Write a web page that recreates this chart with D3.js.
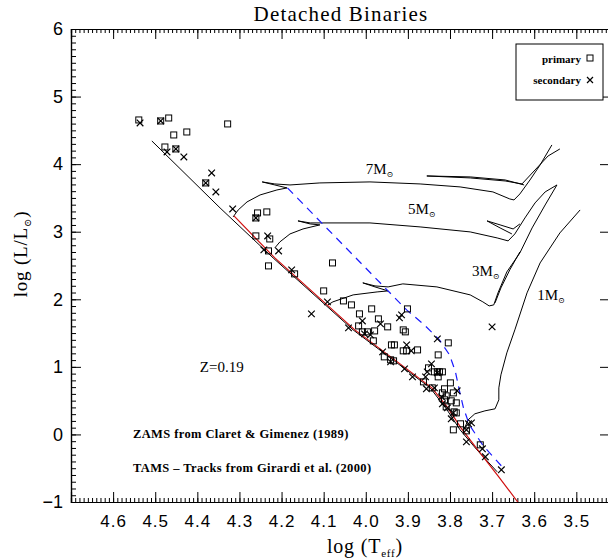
<!DOCTYPE html>
<html>
<head>
<meta charset="utf-8">
<script src="https://cdn.jsdelivr.net/npm/d3@7"></script>
<style>
  body { margin: 0; background: #fff; }
  svg { display: block; }
  .lbl { font-family: "Liberation Serif", "DejaVu Serif", serif; }
  .small { font-family: "Liberation Serif", serif; font-weight: bold; font-size: 12.5px; letter-spacing: 0.4px; }
  .leg { font-family: "Liberation Serif", serif; font-weight: bold; font-size: 11px; }
</style>
</head>
<body>
<svg width="608" height="560"></svg>
<script>
// axis ticks
const xMajor = [4.6, 4.5, 4.4, 4.3, 4.2, 4.1, 4.0, 3.9, 3.8, 3.7, 3.6, 3.5];
const yMajor = [-1, 0, 1, 2, 3, 4, 5, 6];

// primary stars [log Teff, log L]
const primary = [
  [4.539, 4.654], [4.487, 4.639], [4.468, 4.683], [4.456, 4.432], [4.425, 4.476],
  [4.328, 4.595], [4.477, 4.254], [4.451, 4.225], [4.380, 3.722], [4.257, 3.278],
  [4.235, 3.293], [4.261, 3.204], [4.261, 2.938], [4.228, 2.893], [4.231, 2.716],
  [4.231, 2.494], [4.169, 2.376], [4.079, 2.538], [4.100, 2.124], [4.053, 1.976],
  [4.034, 1.917], [4.015, 1.784], [3.986, 1.858], [3.970, 1.710], [3.948, 1.592],
  [3.901, 1.858], [4.017, 1.606], [4.008, 1.518], [3.996, 1.518], [3.979, 1.532],
  [3.982, 1.385], [3.911, 1.547], [3.906, 1.518], [3.939, 1.325], [3.932, 1.325],
  [3.911, 1.237], [3.903, 1.237], [3.877, 1.251], [3.956, 1.148], [3.941, 1.104],
  [3.934, 1.089], [3.804, 1.355], [3.828, 1.177], [3.851, 0.985], [3.837, 0.926],
  [3.830, 0.926], [3.825, 0.926], [3.818, 0.926], [3.828, 0.852], [3.863, 0.778],
  [3.799, 0.763], [3.842, 0.689], [3.813, 0.675], [3.818, 0.615], [3.792, 0.615],
  [3.809, 0.571], [3.813, 0.512], [3.797, 0.497], [3.785, 0.467], [3.809, 0.408],
  [3.790, 0.334], [3.785, 0.319], [3.775, 0.157], [3.792, 0.068], [3.761, 0.053],
  [3.728, -0.154]
];

// secondary stars [log Teff, log L]
const secondary = [
  [4.536, 4.609], [4.487, 4.639], [4.472, 4.180], [4.451, 4.225], [4.432, 4.106],
  [4.366, 3.870], [4.380, 3.722], [4.356, 3.589], [4.316, 3.337], [4.261, 3.204],
  [4.233, 2.938], [4.242, 2.731], [4.207, 2.716], [4.176, 2.435], [4.091, 1.962],
  [4.129, 1.784], [4.008, 1.680], [3.965, 1.636], [3.915, 1.769], [3.920, 1.725],
  [3.700, 1.592], [4.041, 1.577], [4.003, 1.488], [3.989, 1.473], [3.903, 1.325],
  [3.892, 1.237], [3.960, 1.222], [3.941, 1.074], [3.908, 0.970], [3.889, 0.852],
  [3.830, 1.414], [3.844, 1.044], [3.854, 0.926], [3.830, 0.911], [3.858, 0.852],
  [3.856, 0.675], [3.837, 0.689], [3.783, 0.645], [3.820, 0.556], [3.818, 0.453],
  [3.806, 0.393], [3.792, 0.319], [3.797, 0.231], [3.756, 0.157], [3.761, 0.068],
  [3.761, -0.110], [3.723, -0.213], [3.716, -0.331], [3.678, -0.524], [3.749, 0.171]
];

// ZAMS (Claret & Gimenez) - black
const zamsCG = [
  [4.508, 4.343], [4.346, 3.352], [4.220, 2.612], [4.030, 1.547], [3.847, 0.689],
  [3.807, 0.364], [3.776, 0.068], [3.736, -0.228], [3.688, -0.553]
];
// ZAMS (Girardi) - red
const zamsG = [
  [4.313, 3.234], [4.216, 2.612], [4.026, 1.547], [3.843, 0.689], [3.805, 0.393],
  [3.774, 0.098], [3.734, -0.228], [3.686, -0.612], [3.639, -1.000], [3.620, -1.20]
];
// TAMS - blue dashed
const tams = [
  [4.186, 3.648], [3.903, 1.843], [3.861, 1.621], [3.825, 1.399], [3.801, 1.177],
  [3.787, 0.926], [3.778, 0.660], [3.768, 0.393], [3.754, 0.142], [3.721, -0.169],
  [3.676, -0.479]
];

// evolutionary tracks
const track7 = [
  [4.315, 3.219], [4.303, 3.322], [4.282, 3.441], [4.251, 3.544], [4.211, 3.618],
  [4.187, 3.648], [4.216, 3.692], [4.246, 3.737], [4.216, 3.707], [4.180, 3.692],
  [4.109, 3.722], [3.990, 3.737], [3.871, 3.707], [3.776, 3.663], [3.698, 3.589],
  [3.658, 3.485], [3.648, 3.470], [3.634, 3.559], [3.610, 3.766], [3.586, 3.988],
  [3.558, 4.284]
];
const track7loop = [
  [3.624, 3.692], [3.669, 3.766], [3.752, 3.811], [3.855, 3.825], [3.752, 3.796],
  [3.669, 3.751], [3.629, 3.707], [3.598, 3.914], [3.567, 4.121], [3.539, 4.225]
];
const track5 = [
  [4.216, 2.760], [4.204, 2.849], [4.180, 2.967], [4.149, 3.041], [4.109, 3.101],
  [4.132, 3.115], [4.161, 3.160], [4.132, 3.130], [4.102, 3.130], [3.990, 3.130],
  [3.871, 3.071], [3.752, 2.997], [3.688, 2.908], [3.662, 2.864], [3.646, 2.967],
  [3.622, 3.204], [3.598, 3.426], [3.574, 3.589], [3.546, 3.692]
];
const track5loop = [
  [3.653, 2.967], [3.681, 3.056], [3.712, 3.160], [3.681, 3.101], [3.650, 3.041],
  [3.634, 3.115]
];
const track3 = [
  [4.090, 1.917], [4.078, 1.962], [4.030, 2.065], [3.973, 2.109], [3.947, 2.124],
  [3.978, 2.183], [4.007, 2.243], [3.978, 2.198], [3.947, 2.183], [3.912, 2.228],
  [3.831, 2.183], [3.752, 2.065], [3.722, 1.962], [3.707, 1.902], [3.696, 1.917],
  [3.686, 2.095], [3.665, 2.405], [3.634, 2.686], [3.605, 3.056], [3.574, 3.396],
  [3.546, 3.692]
];
const track3loop = [[3.693, 1.947], [3.679, 2.169], [3.658, 2.435], [3.634, 2.701]];
const track1 = [
  [3.769, 0.038], [3.757, 0.216], [3.741, 0.305], [3.717, 0.349], [3.693, 0.379],
  [3.684, 0.512], [3.684, 0.689], [3.679, 0.882], [3.665, 1.207], [3.646, 1.547],
  [3.617, 2.095], [3.586, 2.538], [3.539, 2.982], [3.491, 3.322]
];

const trackLabels = [
  { mass: "7", t: 4.0, l: 3.855 },
  { mass: "5", t: 3.90, l: 3.263 },
  { mass: "3", t: 3.748, l: 2.346 },
  { mass: "1", t: 3.593, l: 1.991 }
];

const svg = d3.select("svg");
const mLeft = 71, mRight = 610, mTop = 29, mBottom = 502;

const x = d3.scaleLinear().domain([4.7, 3.42]).range([mLeft, mRight]);
const y = d3.scaleLinear().domain([-1, 6]).range([mBottom, mTop]);

svg.append("rect").attr("width", 608).attr("height", 560).attr("fill", "#fff");

svg.append("defs").append("clipPath").attr("id", "plot")
  .append("rect").attr("x", mLeft).attr("y", mTop)
  .attr("width", mRight - mLeft).attr("height", mBottom - mTop);

// title
svg.append("text").attr("class", "lbl")
  .attr("x", 341).attr("y", 21)
  .attr("text-anchor", "middle")
  .style("font-size", "21px").style("letter-spacing", "1.2px")
  .text("Detached Binaries");

// axes
const xMinor = d3.range(342, 470).map((d) => d / 100);
const yMinor = d3.range(-10, 61).map((d) => d / 10);

function noLabels(g) { g.selectAll("text").remove(); g.select(".domain").attr("stroke-width", 1.2); }

svg.append("g").attr("transform", `translate(0,${mBottom})`)
  .call(d3.axisBottom(x).tickValues(xMinor).tickSize(-4).tickFormat(""))
  .call(noLabels);
svg.append("g").attr("transform", `translate(0,${mBottom})`)
  .call(d3.axisBottom(x).tickValues(xMajor).tickSize(-10).tickPadding(13).tickFormat(d3.format(".1f")))
  .call((g) => g.select(".domain").attr("stroke-width", 1.2))
  .selectAll("text")
  .style("font-family", "'Liberation Sans', Arial, sans-serif")
  .style("font-size", "17px").style("letter-spacing", "1px").attr("fill", "#000");

svg.append("g").attr("transform", `translate(0,${mTop})`)
  .call(d3.axisTop(x).tickValues(xMinor).tickSize(-4).tickFormat(""))
  .call(noLabels);
svg.append("g").attr("transform", `translate(0,${mTop})`)
  .call(d3.axisTop(x).tickValues(xMajor).tickSize(-10).tickFormat(""))
  .call(noLabels);

svg.append("g").attr("transform", `translate(${mLeft},0)`)
  .call(d3.axisLeft(y).tickValues(yMinor).tickSize(-5).tickFormat(""))
  .call(noLabels);
svg.append("g").attr("transform", `translate(${mLeft},0)`)
  .call(d3.axisLeft(y).tickValues(yMajor).tickSize(-10).tickPadding(8).tickFormat(d3.format("d")))
  .call((g) => g.select(".domain").attr("stroke-width", 1.2))
  .selectAll("text")
  .style("font-family", "'Liberation Sans', Arial, sans-serif")
  .style("font-size", "18px").attr("fill", "#000");

svg.append("g").attr("transform", `translate(${mRight},0)`)
  .call(d3.axisRight(y).tickValues(yMajor).tickSize(-10).tickFormat(""))
  .call(noLabels);

// axis titles
const xt = svg.append("text").attr("class", "lbl")
  .attr("x", 365).attr("y", 553).attr("text-anchor", "middle")
  .style("font-size", "20px").style("letter-spacing", "0.8px");
xt.append("tspan").text("log (T");
xt.append("tspan").attr("dy", 4).style("font-size", "11px").text("eff");
xt.append("tspan").attr("dy", -4).text(")");

const yt = svg.append("text").attr("class", "lbl")
  .attr("transform", "translate(27,254) rotate(-90)").attr("text-anchor", "middle")
  .style("font-size", "19px").style("letter-spacing", "0.8px");
yt.append("tspan").text("log (L/L");
yt.append("tspan").attr("dy", 4).style("font-size", "10px").text("⊙");
yt.append("tspan").attr("dy", -4).text(")");

// lines
const plot = svg.append("g").attr("clip-path", "url(#plot)");
const line = d3.line().x((d) => x(d[0])).y((d) => y(d[1]));

[track7, track7loop, track5, track5loop, track3, track3loop, track1, zamsCG].forEach((t) => {
  plot.append("path").attr("d", line(t))
    .attr("fill", "none").attr("stroke", "#000").attr("stroke-width", 1);
});
plot.append("path").attr("d", line(zamsG))
  .attr("fill", "none").attr("stroke", "#d01010").attr("stroke-width", 1.2);
plot.append("path").attr("d", line(tams))
  .attr("fill", "none").attr("stroke", "#1a1aff").attr("stroke-width", 1.2)
  .attr("stroke-dasharray", "8,6");

// stars
plot.selectAll(".prim").data(primary).join("rect")
  .attr("class", "prim")
  .attr("x", (d) => x(d[0]) - 3).attr("y", (d) => y(d[1]) - 3)
  .attr("width", 6).attr("height", 6)
  .attr("fill", "none").attr("stroke", "#000").attr("stroke-width", 1);

const cross = (sel, s) => sel.append("path")
  .attr("d", `M${-s},${-s}L${s},${s}M${-s},${s}L${s},${-s}`)
  .attr("fill", "none").attr("stroke", "#000").attr("stroke-width", 1.2);

plot.selectAll(".sec").data(secondary).join("g")
  .attr("class", "sec")
  .attr("transform", (d) => `translate(${x(d[0])},${y(d[1])})`)
  .call((g) => cross(g, 3.3));

// track labels
trackLabels.forEach((m) => {
  const t = svg.append("text").attr("class", "lbl")
    .attr("x", x(m.t)).attr("y", y(m.l)).style("font-size", "15px");
  t.append("tspan").text(m.mass + "M");
  t.append("tspan").attr("dy", 3).style("font-size", "8px").text("⊙");
});

svg.append("text").attr("class", "lbl")
  .attr("x", x(4.394)).attr("y", y(0.926)).style("font-size", "15px")
  .text("Z=0.19");

svg.append("text").attr("class", "small")
  .attr("x", x(4.553)).attr("y", y(-0.05))
  .text("ZAMS from Claret & Gimenez (1989)");
svg.append("text").attr("class", "small")
  .attr("x", x(4.553)).attr("y", y(-0.553))
  .text("TAMS \u2013 Tracks from Girardi et al. (2000)");

// legend
const lg = svg.append("g");
lg.append("rect").attr("x", 516).attr("y", 44).attr("width", 87).attr("height", 56)
  .attr("fill", "#fff").attr("stroke", "#000").attr("stroke-width", 1);
lg.append("text").attr("class", "leg").attr("x", 581).attr("y", 63)
  .attr("text-anchor", "end").text("primary");
lg.append("rect").attr("x", 587).attr("y", 55).attr("width", 6).attr("height", 6)
  .attr("fill", "none").attr("stroke", "#000");
lg.append("text").attr("class", "leg").attr("x", 581).attr("y", 84)
  .attr("text-anchor", "end").text("secondary");
lg.append("g").attr("transform", "translate(590,80)").call((g) => cross(g, 3));
</script>
</body>
</html>
